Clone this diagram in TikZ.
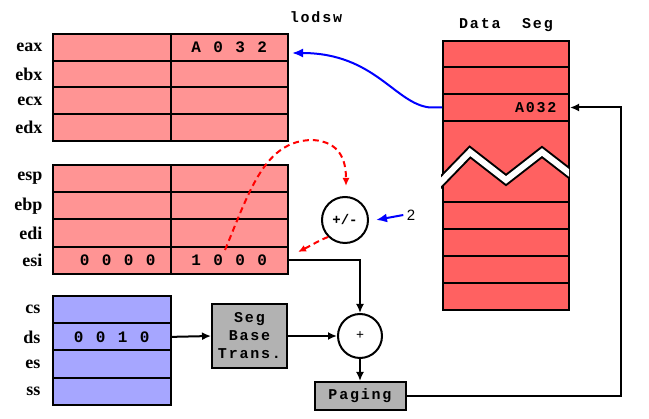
\documentclass[tikz,border=0pt]{standalone}
\usepackage{fontspec}
\setmainfont{Liberation Serif}
\newfontfamily\monofont[LetterSpace=12]{Liberation Mono}
\newfontfamily\hexfont{Liberation Mono}
\newfontfamily\numfont{Liberation Sans}
\usetikzlibrary{arrows.meta,positioning,calc}

\newcommand\hexval[4]{\makebox[22pt]{#1}\makebox[22pt]{#2}\makebox[22pt]{#3}\makebox[22pt]{#4}}

\tikzset{
  cell/.style={draw,line width=2pt,minimum width=117.5pt,inner sep=0pt,anchor=north west},
  gpr/.style={cell,fill=red!42},
  segreg/.style={cell,fill=blue!35,minimum height=27.25pt},
  mem/.style={cell,fill=red!62,minimum width=126pt},
  unit/.style={draw,line width=2pt,fill=black!30,inner sep=0pt,align=center,
    font=\monofont\bfseries\fontsize{15}{18}\selectfont},
  op/.style={circle,draw,line width=2pt,fill=white,inner sep=0pt},
  reglabel/.style={font=\bfseries\fontsize{18}{18}\selectfont},
  val/.style={font=\hexfont\bfseries\fontsize{16}{16}\selectfont},
  title/.style={font=\monofont\bfseries\fontsize{15}{15}\selectfont},
  wire/.style={line width=2pt,-{Latex[length=9pt,width=8pt]}},
  bluewire/.style={blue,line width=2pt,-{Latex[length=11pt,width=9pt]}},
  ptr/.style={red,line width=2pt,dash pattern=on 6pt off 4pt,-{Latex[length=8pt,width=7pt]}},
}

\begin{document}
\begin{tikzpicture}[x=1pt,y=-1pt]
\useasboundingbox (0,0) rectangle (649,419);

% general registers
\foreach \r/\y in {eax/33,ebx/59.75,ecx/86.5,edx/113.25}{
  \node[gpr,minimum height=26.75pt] (\r-h) at (52,\y) {};
  \node[gpr,minimum height=26.75pt] (\r-l) at (169.5,\y) {};
  \node[reglabel,left=6pt of \r-h] {\r};
}
\foreach \r/\y in {esp/164,ebp/191.25,edi/218.5,esi/245.75}{
  \node[gpr,minimum height=27.25pt] (\r-h) at (52,\y) {};
  \node[gpr,minimum height=27.25pt] (\r-l) at (169.5,\y) {};
  \node[reglabel,left=6pt of \r-h] {\r};
}
\node[title] (lodsw) at (316,17) {lodsw};
\node[val] at (eax-l) {\hexval A032};
\node[val,xshift=6pt] at (esi-h) {\hexval 0000};
\node[val] at (esi-l) {\hexval 1000};

% segment registers
\foreach \r/\y in {cs/295,ds/322.25,es/349.5,ss/376.75}{
  \node[segreg] (\r) at (52,\y) {};
  \node[reglabel,left=8pt of \r] {\r};
}
\node[val] at (ds) {\hexval 0010};

% data segment in memory
\foreach \n/\y/\h in {1/40/26.5,2/66.5/26.5,3/93/27,4/120/81,5/201/27,6/228/27,7/255/27,8/282/27}{
  \node[mem,minimum height=\h pt] (d\n) at (442,\y) {};
}
\begin{scope}
  \clip (441,120) rectangle (569,201);
  \draw[line width=2pt,double=white,double distance=6pt]
    (437,186) -- (470,152) -- (506,180) -- (542,152) -- (573,176);
\end{scope}
\node[title,above=5pt of d1] (dseg) {Data\ \ Seg};
\node[title,anchor=east] (word) at ($(d3.east)+(-10,0)$) {A032};

% address units
\node[unit,minimum width=75pt,minimum height=64pt] (sbt) at (249.5,336) {Seg\\Base\\Trans.};
\node[op,minimum size=44pt] (add) at (360,336) {\bfseries\fontsize{14}{14}\selectfont+};
\node[unit,minimum width=91pt,minimum height=28pt] (pg) at (360,396) {Paging};
\node[op,minimum size=46pt] (pm) at (345,220) {\hexfont\bfseries\fontsize{14}{14}\selectfont+/-};
\node[font=\numfont\fontsize{15}{15}\selectfont] (two) at (411,215) {2};

\coordinate (eaxin) at (292,53);
\coordinate (ret) at (621,396);
\coordinate (esiptr) at (225,250);
\coordinate (esiin) at (298,252);

\draw[wire] (ds.east) -- (sbt.west);
\draw[wire] (sbt.east) -- (add.west);
\draw[wire] (esi-l.east) -| (add.north);
\draw[wire] (add.south) -- (pg.north);
\draw[wire] (pg.east) -- (ret) |- (d3.east);
\draw[bluewire] (d3.west) -- ++(-12,0) .. controls (395,104) and (375,53) .. (eaxin);
\draw[bluewire] (two.west) -- ($(pm.east)+(7,0)$);
\draw[ptr] (esiptr) .. controls (250,190) and (265,140) .. (313,140)
  .. controls (340,142) and (346,160) .. ($(pm.north)+(1,-10)$);
\draw[ptr] (pm.south west) .. controls (320,240) and (310,246) .. (esiin);
\end{tikzpicture}
\end{document}
